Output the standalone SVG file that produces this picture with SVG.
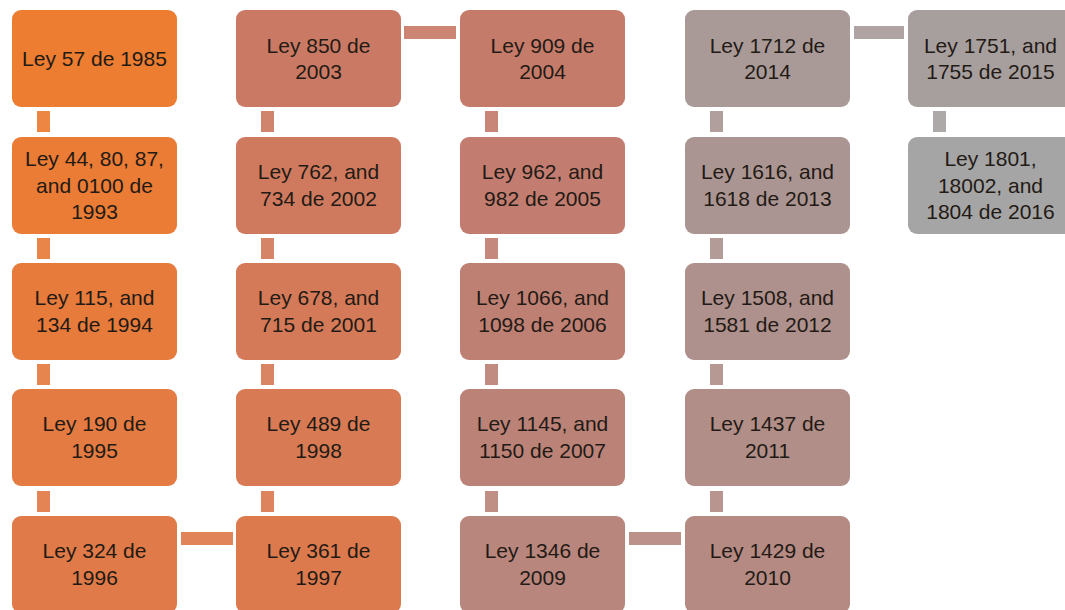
<svg xmlns="http://www.w3.org/2000/svg" width="1065" height="610" viewBox="0 0 1065 610">
<style>
.box{stroke:none}
.t{font-family:"Liberation Sans",Arial,sans-serif;font-size:21px;fill:#231a15;text-anchor:middle}
.cn{stroke:none;fill-opacity:0.92}
</style>
<rect width="1065" height="610" fill="#ffffff"/>
<g id="connectors">
<rect class="cn" x="37" y="111" width="13" height="21" fill="#EC7C33"/>
<rect class="cn" x="37" y="238" width="13" height="21" fill="#E87B39"/>
<rect class="cn" x="37" y="364" width="13" height="21" fill="#E57B3F"/>
<rect class="cn" x="37" y="491" width="13" height="21" fill="#E27A45"/>
<rect class="cn" x="181" y="532" width="52" height="13" fill="#DE7A4B"/>
<rect class="cn" x="261" y="491" width="13" height="21" fill="#DA7A50"/>
<rect class="cn" x="261" y="364" width="13" height="21" fill="#D67A56"/>
<rect class="cn" x="261" y="238" width="13" height="21" fill="#D27A5B"/>
<rect class="cn" x="261" y="111" width="13" height="21" fill="#CD7A61"/>
<rect class="cn" x="404" y="26" width="52" height="13" fill="#C87A67"/>
<rect class="cn" x="485" y="111" width="13" height="21" fill="#C37C6D"/>
<rect class="cn" x="485" y="238" width="13" height="21" fill="#C07E72"/>
<rect class="cn" x="485" y="364" width="13" height="21" fill="#BD8176"/>
<rect class="cn" x="485" y="491" width="13" height="21" fill="#BA847A"/>
<rect class="cn" x="629" y="532" width="52" height="13" fill="#B68880"/>
<rect class="cn" x="710" y="491" width="13" height="21" fill="#B38C85"/>
<rect class="cn" x="710" y="364" width="13" height="21" fill="#B0908A"/>
<rect class="cn" x="710" y="238" width="13" height="21" fill="#AD938F"/>
<rect class="cn" x="710" y="111" width="13" height="21" fill="#AA9795"/>
<rect class="cn" x="854" y="26" width="50" height="13" fill="#A89C9B"/>
<rect class="cn" x="933" y="111" width="13" height="21" fill="#A6A2A1"/>
</g>
<g id="n1985"><rect class="box" x="12" y="10" width="165" height="97" rx="9" fill="#ED7D31"/><text class="t" x="94.5" y="66">Ley 57 de 1985</text></g>
<g id="n1993"><rect class="box" x="12" y="137" width="165" height="97" rx="9" fill="#EA7C36"/><text class="t" x="94.5" y="166">Ley 44, 80, 87,<tspan x="94.5" dy="26.5">and 0100 de</tspan><tspan x="94.5" dy="26.5">1993</tspan></text></g>
<g id="n1994"><rect class="box" x="12" y="263" width="165" height="97" rx="9" fill="#E67B3C"/><text class="t" x="94.5" y="305">Ley 115, and<tspan x="94.5" dy="26.5">134 de 1994</tspan></text></g>
<g id="n1995"><rect class="box" x="12" y="389" width="165" height="97" rx="9" fill="#E37B42"/><text class="t" x="94.5" y="431">Ley 190 de<tspan x="94.5" dy="26.5">1995</tspan></text></g>
<g id="n1996"><rect class="box" x="12" y="516" width="165" height="97" rx="9" fill="#E07A48"/><text class="t" x="94.5" y="558">Ley 324 de<tspan x="94.5" dy="26.5">1996</tspan></text></g>
<g id="n1997"><rect class="box" x="236" y="516" width="165" height="97" rx="9" fill="#DC7A4E"/><text class="t" x="318.5" y="558">Ley 361 de<tspan x="318.5" dy="26.5">1997</tspan></text></g>
<g id="n1998"><rect class="box" x="236" y="389" width="165" height="97" rx="9" fill="#D87A53"/><text class="t" x="318.5" y="431">Ley 489 de<tspan x="318.5" dy="26.5">1998</tspan></text></g>
<g id="n2001"><rect class="box" x="236" y="263" width="165" height="97" rx="9" fill="#D47A58"/><text class="t" x="318.5" y="305">Ley 678, and<tspan x="318.5" dy="26.5">715 de 2001</tspan></text></g>
<g id="n2002"><rect class="box" x="236" y="137" width="165" height="97" rx="9" fill="#CF7A5E"/><text class="t" x="318.5" y="179">Ley 762, and<tspan x="318.5" dy="26.5">734 de 2002</tspan></text></g>
<g id="n2003"><rect class="box" x="236" y="10" width="165" height="97" rx="9" fill="#CA7A64"/><text class="t" x="318.5" y="52.5">Ley 850 de<tspan x="318.5" dy="26.5">2003</tspan></text></g>
<g id="n2004"><rect class="box" x="460" y="10" width="165" height="97" rx="9" fill="#C57B6A"/><text class="t" x="542.5" y="52.5">Ley 909 de<tspan x="542.5" dy="26.5">2004</tspan></text></g>
<g id="n2005"><rect class="box" x="460" y="137" width="165" height="97" rx="9" fill="#C27D70"/><text class="t" x="542.5" y="179">Ley 962, and<tspan x="542.5" dy="26.5">982 de 2005</tspan></text></g>
<g id="n2006"><rect class="box" x="460" y="263" width="165" height="97" rx="9" fill="#BF8074"/><text class="t" x="542.5" y="305">Ley 1066, and<tspan x="542.5" dy="26.5">1098 de 2006</tspan></text></g>
<g id="n2007"><rect class="box" x="460" y="389" width="165" height="97" rx="9" fill="#BB8378"/><text class="t" x="542.5" y="431">Ley 1145, and<tspan x="542.5" dy="26.5">1150 de 2007</tspan></text></g>
<g id="n2009"><rect class="box" x="460" y="516" width="165" height="97" rx="9" fill="#B8867D"/><text class="t" x="542.5" y="558">Ley 1346 de<tspan x="542.5" dy="26.5">2009</tspan></text></g>
<g id="n2010"><rect class="box" x="685" y="516" width="165" height="97" rx="9" fill="#B48A83"/><text class="t" x="767.5" y="558">Ley 1429 de<tspan x="767.5" dy="26.5">2010</tspan></text></g>
<g id="n2011"><rect class="box" x="685" y="389" width="165" height="97" rx="9" fill="#B18E88"/><text class="t" x="767.5" y="431">Ley 1437 de<tspan x="767.5" dy="26.5">2011</tspan></text></g>
<g id="n2012"><rect class="box" x="685" y="263" width="165" height="97" rx="9" fill="#AE918D"/><text class="t" x="767.5" y="305">Ley 1508, and<tspan x="767.5" dy="26.5">1581 de 2012</tspan></text></g>
<g id="n2013"><rect class="box" x="685" y="137" width="165" height="97" rx="9" fill="#AB9592"/><text class="t" x="767.5" y="179">Ley 1616, and<tspan x="767.5" dy="26.5">1618 de 2013</tspan></text></g>
<g id="n2014"><rect class="box" x="685" y="10" width="165" height="97" rx="9" fill="#A99A98"/><text class="t" x="767.5" y="52.5">Ley 1712 de<tspan x="767.5" dy="26.5">2014</tspan></text></g>
<g id="n2015"><rect class="box" x="908" y="10" width="165" height="97" rx="9" fill="#A79F9E"/><text class="t" x="990.5" y="52.5">Ley 1751, and<tspan x="990.5" dy="26.5">1755 de 2015</tspan></text></g>
<g id="n2016"><rect class="box" x="908" y="137" width="165" height="97" rx="9" fill="#A5A5A5"/><text class="t" x="990.5" y="166">Ley 1801,<tspan x="990.5" dy="26.5">18002, and</tspan><tspan x="990.5" dy="26.5">1804 de 2016</tspan></text></g>
</svg>
